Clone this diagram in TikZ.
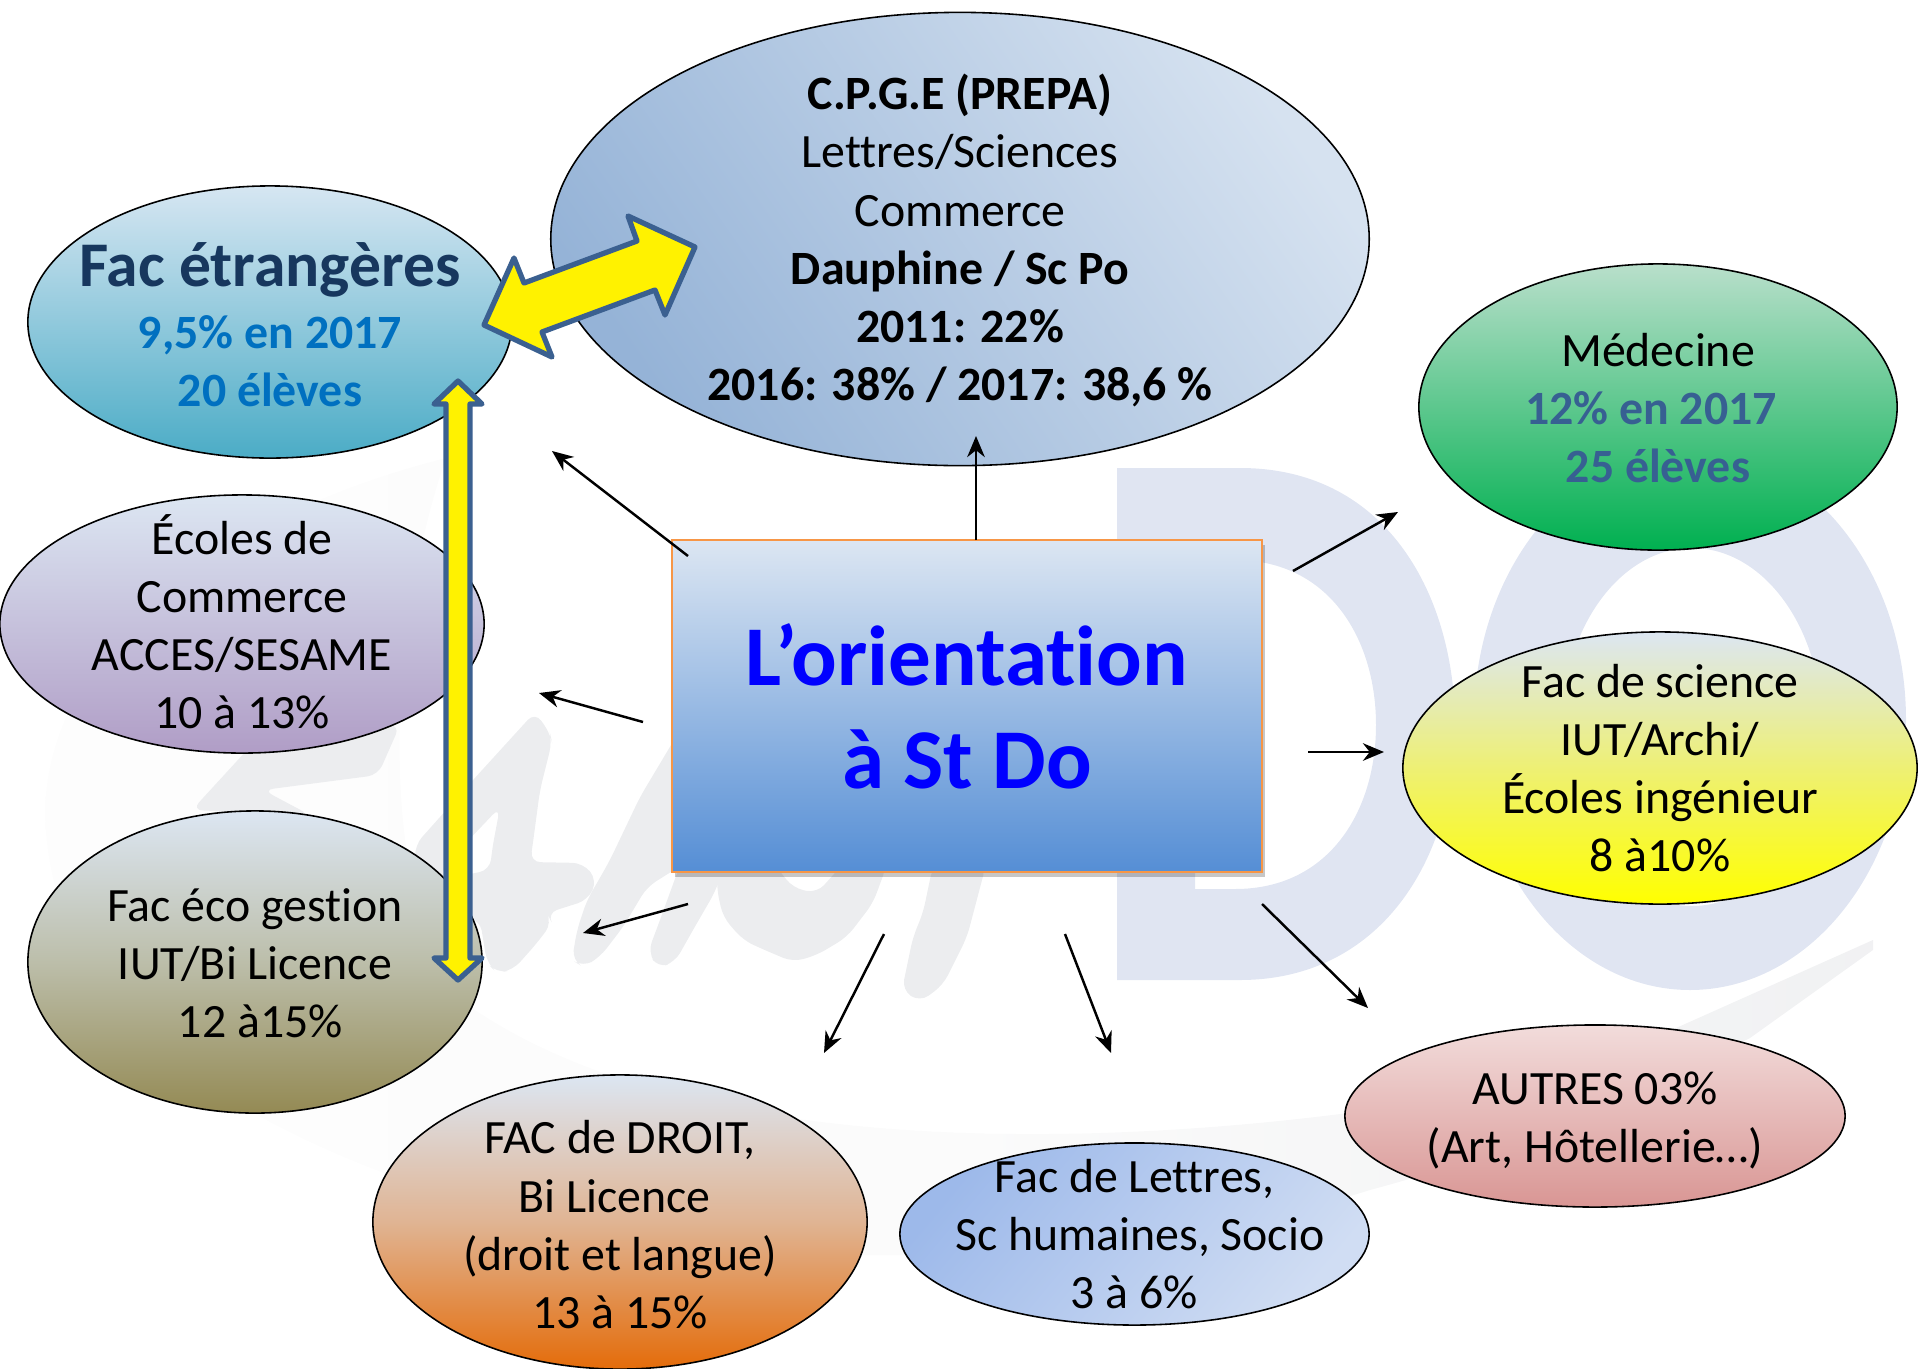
\documentclass[tikz,border=0pt]{standalone}
\usepackage{fontspec}
\setmainfont[Ligatures=NoCommon]{Carlito}
\usetikzlibrary{calc}
\usetikzlibrary{positioning}
\usetikzlibrary{shapes.geometric,arrows.meta,shadows}
\definecolor{wmblue}{HTML}{E0E5F2}
\definecolor{wmgrey}{HTML}{ECEDEF}
\definecolor{wmpale}{HTML}{FBFBFB}
\definecolor{yarrow}{HTML}{3B6090}
\definecolor{darktitle}{HTML}{17375E}
\definecolor{midblue}{HTML}{0070C0}
\definecolor{steel}{HTML}{376092}
\definecolor{boxedge}{HTML}{F79646}
\definecolor{boxtop}{HTML}{DCE6F2}
\definecolor{boxbot}{HTML}{558ED5}
\definecolor{cpgelow}{HTML}{95B3D7}
\definecolor{cpgehigh}{HTML}{D6E2F0}
\definecolor{etrtop}{HTML}{D6E6F2}
\definecolor{etrbot}{HTML}{4BACC6}
\definecolor{ecotop}{HTML}{DCE6F2}
\definecolor{ecolebot}{HTML}{B09DC6}
\definecolor{gestmid}{HTML}{BCBEAA}
\definecolor{gestbot}{HTML}{948A54}
\definecolor{droitmid}{HTML}{E0B493}
\definecolor{droitbot}{HTML}{E46C0A}
\definecolor{lettlow}{HTML}{9DB9EA}
\definecolor{letthigh}{HTML}{D0DDF3}
\definecolor{autrtop}{HTML}{F2DCDB}
\definecolor{autrbot}{HTML}{D99694}
\definecolor{sciemid}{HTML}{EEF074}
\definecolor{medtop}{HTML}{B9DFCB}
\definecolor{medbot}{HTML}{00B050}
\newcommand{\topgap}[1]{\rule{0pt}{#1}}
\tikzset{
  blob/.style={ellipse,draw=black,line width=.45pt,inner sep=-3cm,align=center,
    font=\fontsize{13.6}{16.55}\selectfont},
  orientbox/.style={rectangle,draw=boxedge,line width=.7pt,inner sep=0pt,align=center,
    top color=boxtop,bottom color=boxbot,text=blue,
    font=\fontsize{24.2}{29.3}\selectfont\bfseries,
    general shadow={fill=black,opacity=.22,shadow xshift=.8pt,shadow yshift=-1.4pt}},
  link/.style={line width=.7pt,-{Stealth[length=6pt,width=5pt]}},
  bigarrow/.style={draw=yarrow,fill=yellow,line width=1.5pt,line join=round},
  inkshape/.style={fill=wmgrey,even odd rule,rounded corners=3pt}
}
\begin{document}
\begin{tikzpicture}[x=0.01cm,y=-0.01cm]
  \useasboundingbox (0,0) rectangle (1920,1369);

  \path [left color=white!60!wmpale,right color=wmgrey!70!wmpale,middle color=wmpale]
    (446,458) .. controls (200,520) and (45,660) .. (45,815)
    .. controls (50,980) and (170,1090) .. (376,1170)
    .. controls (700,1300) and (1150,1260) .. (1370,1190)
    .. controls (1520,1150) and (1650,1090) .. (1750,1038)
    -- (1873,950) -- (1873,940) -- (1685,1024)
    .. controls (1560,1080) and (1450,1100) .. (1348,1113)
    .. controls (1100,1145) and (700,1160) .. (475,1010)
    .. controls (380,930) and (380,650) .. (446,458) -- cycle;

  \fill [wmblue, even odd rule]
    (1117,468) -- (1240,468) .. controls (1390,468) and (1455,600) .. (1455,725)
    .. controls (1455,860) and (1380,980) .. (1240,980) -- (1117,980) -- cycle
    (1195,560) -- (1235,560) .. controls (1330,560) and (1376,640) .. (1376,725)
    .. controls (1376,810) and (1330,889) .. (1235,889) -- (1195,889) -- cycle;
  \fill [wmblue, even odd rule]
    (1690,720) ellipse (216 and 270)
    (1692,727) ellipse (130 and 179);

  \fill [inkshape] (192,810) -- (270,725) -- (400,725) -- (378,775) -- (263,790) -- (310,815) -- cycle;
  \fill [inkshape] (535,712) -- (550,733) -- (552,742) -- (540,790) -- (532,850) -- (530,862)
    -- (583,863) -- (597,880) -- (588,900) -- (547,913) -- (552,923) -- (537,943) -- (513,970)
    -- (497,973) -- (487,963) -- (480,920) -- (440,915) -- (415,900) -- (415,845) -- (473,780) -- cycle
    (500,807) -- (492,850) -- (490,870) -- (440,880) -- (445,865) -- cycle;
  \fill [inkshape] (680,730) -- (640,797) -- (610,860) -- (597,883) -- (587,900) -- (577,930)
    -- (572,960) -- (583,967) -- (600,957) -- (623,927) -- (647,887) -- (690,860) -- cycle;
  \fill [inkshape] (648,952) -- (658,968) -- (675,962) -- (693,930) -- (715,892) -- (725,865)
    -- (680,865) -- (660,920) -- cycle;
  \fill [inkshape] (717,865) -- (717,890) -- (723,917) -- (743,940) -- (760,948) -- (793,962)
    -- (817,955) -- (847,937) -- (873,903) -- (887,865) -- (842,865) -- (817,893) -- (793,888)
    -- (775,865) -- cycle;
  \fill [inkshape] (933,865) -- (923,913) -- (913,937) -- (902,990) -- (920,1002) -- (943,985)
    -- (967,937) -- (986,865) -- cycle;

  \node [blob, minimum width=8.18cm, minimum height=4.53cm,
         left color=cpgelow, right color=cpgehigh, shading angle=125] (cpge) at (960,239)
    {\topgap{11pt}\textbf{C.P.G.E (PREPA)}\\Lettres/Sciences\\Commerce\\\textbf{Dauphine / Sc Po}\\\textbf{2011: 22\%}\\\textbf{2016: 38\% / 2017: 38,6 \%}};
  \node [blob, minimum width=4.84cm, minimum height=2.72cm,
         top color=etrtop, bottom color=etrbot] (etrangeres) at (270,322)
    {\topgap{14pt}{\fontsize{18.1}{22}\selectfont\bfseries\color{darktitle}Fac étrangères}\\[1pt]
     \textbf{\color{midblue}9,5\% en 2017}\\\textbf{\color{midblue}20 élèves}};
  \node [blob, minimum width=4.84cm, minimum height=2.58cm,
         top color=ecotop, bottom color=ecolebot] (ecoles) at (242,624)
    {Écoles de\\Commerce\\ACCES/SESAME\\10 à 13\%\rule[-1.4pt]{0pt}{1pt}};
  \node [blob, minimum width=4.54cm, minimum height=3.02cm,
         top color=ecotop, bottom color=gestbot, middle color=gestmid] (gestion) at (255,962)
    {\topgap{10pt}Fac éco gestion\\IUT/Bi Licence\\\hspace*{3pt}12 à15\%};
  \node [blob, minimum width=4.94cm, minimum height=2.94cm,
         top color=ecotop, bottom color=droitbot, middle color=droitmid] (droit) at (620,1222)
    {\topgap{11pt}FAC de DROIT,\\Bi Licence\hspace*{3pt}\null\\(droit et langue)\\13 à 15\%};
  \node [blob, minimum width=4.69cm, minimum height=1.82cm,
         left color=lettlow, right color=letthigh, shading angle=50] (lettres) at (1134.5,1234)
    {Fac de Lettres,\\\hspace*{3pt}Sc humaines, Socio\\3 à 6\%};
  \node [blob, minimum width=5.00cm, minimum height=1.82cm,
         top color=autrtop, bottom color=autrbot] (autres) at (1595,1116)
    {\topgap{12pt}AUTRES 03\%\\(Art, Hôtellerie…)};
  \node [blob, minimum width=5.14cm, minimum height=2.72cm,
         top color=ecotop, bottom color=yellow, middle color=sciemid] (science) at (1660,768)
    {Fac de science\\IUT/Archi/\\Écoles ingénieur\\8 à10\%};
  \node [blob, minimum width=4.78cm, minimum height=2.86cm,
         top color=medtop, bottom color=medbot] (medecine) at (1658,407)
    {\topgap{10pt}Médecine\\\textbf{\color{steel}12\% en 2017}\hspace*{4pt}\null\\\textbf{\color{steel}25 élèves}};
  \node [orientbox, minimum width=5.90cm, minimum height=3.32cm] (orient) at (967,706)
    {L’orientation\\à St Do};

  \coordinate (A1) at (688,556);
  \coordinate (A2) at (552,451);
  \coordinate (B1) at (976,540);
  \coordinate (B2) at (976,436);
  \coordinate (C1) at (1293,571);
  \coordinate (C2) at (1398,512);
  \coordinate (D1) at (643,722);
  \coordinate (D2) at (539,693);
  \coordinate (E1) at (1308,752);
  \coordinate (E2) at (1384,752);
  \coordinate (F1) at (688,904);
  \coordinate (F2) at (583,933);
  \coordinate (G1) at (884,934);
  \coordinate (G2) at (824,1053);
  \coordinate (H1) at (1065,934);
  \coordinate (H2) at (1111,1053);
  \coordinate (J1) at (1262,904);
  \coordinate (J2) at (1368,1008);

  \draw [link] (A1) -- (A2);
  \draw [link] (B1) -- (B2);
  \draw [link] (C1) -- (C2);
  \draw [link] (D1) -- (D2);
  \draw [link] (E1) -- (E2);
  \draw [link] (F1) -- (F2);
  \draw [link] (G1) -- (G2);
  \draw [link] (H1) -- (H2);
  \draw [link] (J1) -- (J2);

  \draw [bigarrow] (458,381) -- (434,404) -- (446,404) -- (446,958) -- (434,958) -- (458,980)
    -- (482,958) -- (470,958) -- (470,404) -- (482,404) -- cycle;
  \draw [bigarrow] (695,247) -- (628,216) -- (637,241) -- (524,283) -- (514,258) -- (484,325)
    -- (552,357) -- (542,332) -- (655,290) -- (665,315) -- cycle;
\end{tikzpicture}
\end{document}
